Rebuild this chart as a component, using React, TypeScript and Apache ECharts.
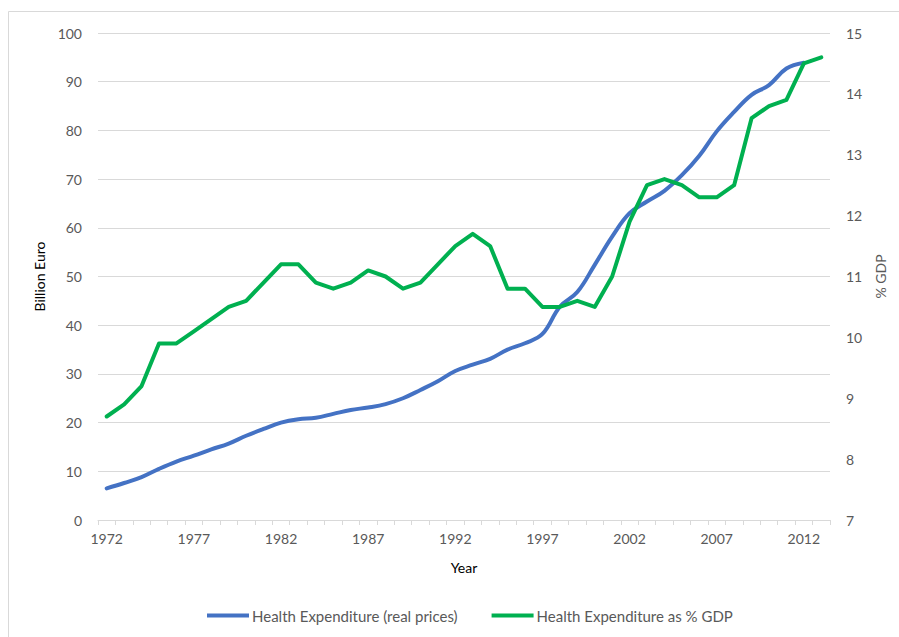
import React, { useEffect, useRef } from "react";
import * as echarts from "echarts";

const years: string[] = [
  "1972","1973","1974","1975","1976","1977","1978","1979","1980","1981",
  "1982","1983","1984","1985","1986","1987","1988","1989","1990","1991",
  "1992","1993","1994","1995","1996","1997","1998","1999","2000","2001",
  "2002","2003","2004","2005","2006","2007","2008","2009","2010","2011",
  "2012","2013",
];

const healthRealPrices: (number | null)[] = [
  6.5, 7.6, 8.8, 10.5, 12.0, 13.2, 14.5, 15.7, 17.3, 18.7,
  20.0, 20.7, 21.0, 21.8, 22.6, 23.1, 23.8, 25.0, 26.7, 28.5,
  30.6, 31.9, 33.1, 35.0, 36.3, 38.2, 43.8, 46.8, 52.4, 58.2,
  63.0, 65.4, 67.6, 70.8, 74.8, 79.8, 83.8, 87.3, 89.3, 92.7,
  93.9, null,
];

const healthPctGdp: number[] = [
  8.7, 8.9, 9.2, 9.9, 9.9, 10.1, 10.3, 10.5, 10.6, 10.9,
  11.2, 11.2, 10.9, 10.8, 10.9, 11.1, 11.0, 10.8, 10.9, 11.2,
  11.5, 11.7, 11.5, 10.8, 10.8, 10.5, 10.5, 10.6, 10.5, 11.0,
  11.9, 12.5, 12.6, 12.5, 12.3, 12.3, 12.5, 13.6, 13.8, 13.9,
  14.5, 14.6,
];

const seriesNames: string[] = [
  "Health Expenditure (real prices)",
  "Health Expenditure as % GDP",
];

const FONT = "Lato, 'Noto Sans', sans-serif";
const GRID = "#d9d9d9";
const TXT = "#595959";

export default function App() {
  const ref = useRef<HTMLDivElement>(null);

  useEffect(() => {
    if (!ref.current) return;
    const chart = echarts.init(ref.current, undefined, { renderer: "svg" });
    chart.setOption({
      animation: false,
      backgroundColor: "#ffffff",
      textStyle: { fontFamily: FONT },
      graphic: [
        {
          type: "rect",
          shape: { x: 8.5, y: 11.5, width: 900, height: 640 },
          style: { fill: "none", stroke: GRID, lineWidth: 1 },
          silent: true,
        },
      ],
      grid: { left: 98, right: 69, top: 33, bottom: 117 },
      legend: {
        bottom: 9,
        left: 202,
        itemWidth: 42,
        itemHeight: 4,
        itemGap: 34,
        icon: "rect",
        textStyle: { color: TXT, fontSize: 15, fontFamily: FONT, padding: [0, 0, 0, -2] },
        data: seriesNames,
      },
      xAxis: {
        type: "category",
        data: years,
        boundaryGap: true,
        name: "Year",
        nameLocation: "middle",
        nameGap: 40,
        nameTextStyle: { color: "#000000", fontSize: 14, fontFamily: FONT },
        axisLine: { show: true, lineStyle: { color: GRID, width: 1 } },
        axisTick: { show: true, interval: 0, length: 5, lineStyle: { color: GRID } },
        axisLabel: { interval: 4, color: TXT, fontSize: 14, margin: 11, fontFamily: FONT },
        splitLine: { show: false },
      },
      yAxis: [
        {
          type: "value",
          min: 0,
          max: 100,
          interval: 10,
          name: "Billion Euro",
          nameLocation: "middle",
          nameGap: 45,
          nameTextStyle: { color: "#000000", fontSize: 14, fontFamily: FONT },
          axisLine: { show: false },
          axisTick: { show: false },
          axisLabel: { color: TXT, fontSize: 14, margin: 16, fontFamily: FONT },
          splitLine: { show: true, lineStyle: { color: GRID, width: 1 } },
        },
        {
          type: "value",
          min: 7,
          max: 15,
          interval: 1,
          name: "% GDP",
          nameLocation: "middle",
          nameGap: 42,
          nameRotate: 90,
          nameTextStyle: { color: TXT, fontSize: 14, fontFamily: FONT },
          axisLine: { show: false },
          axisTick: { show: false },
          axisLabel: { color: TXT, fontSize: 14, margin: 16, fontFamily: FONT },
          splitLine: { show: false },
        },
      ],
      series: [
        {
          name: seriesNames[0],
          type: "line",
          yAxisIndex: 0,
          data: healthRealPrices,
          smooth: 0.4,
          showSymbol: false,
          symbol: "none",
          lineStyle: { color: "#4472c4", width: 4, cap: "round" },
          itemStyle: { color: "#4472c4" },
          z: 2,
        },
        {
          name: seriesNames[1],
          type: "line",
          yAxisIndex: 1,
          data: healthPctGdp,
          smooth: false,
          showSymbol: false,
          symbol: "none",
          lineStyle: { color: "#00b050", width: 4, cap: "round", join: "round" },
          itemStyle: { color: "#00b050" },
          z: 3,
        },
      ],
    });
    return () => chart.dispose();
  }, []);

  return (
    <div
      ref={ref}
      style={{ position: "fixed", left: 0, top: 0, width: 899, height: 637 }}
    />
  );
}
